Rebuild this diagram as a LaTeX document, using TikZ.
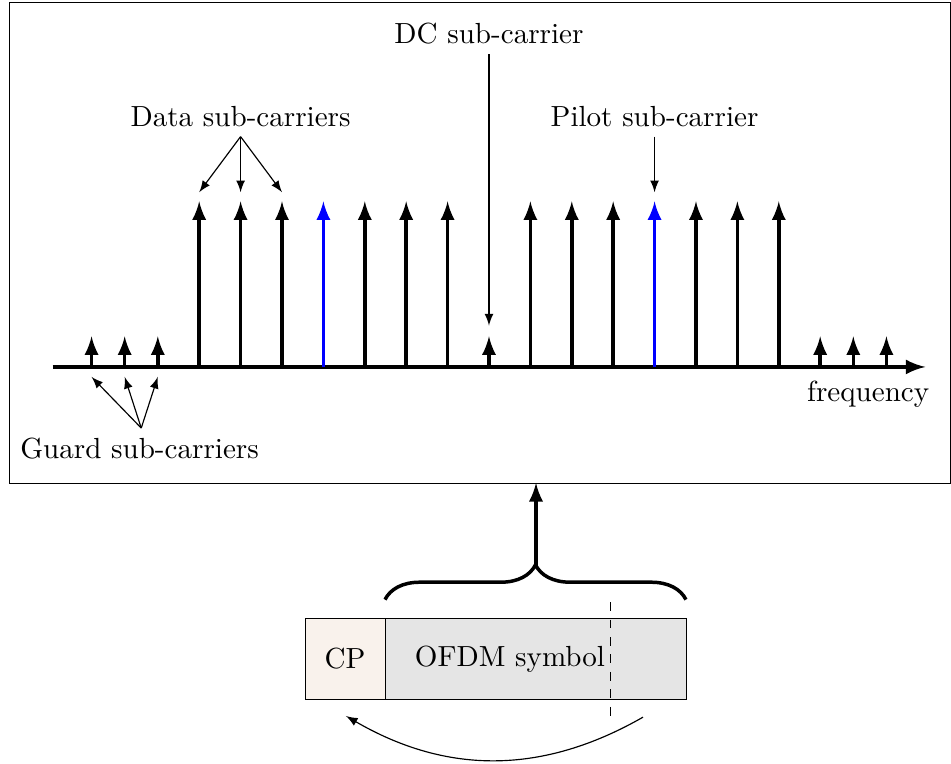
\documentclass[tikz,border=0pt]{standalone}
\usepackage{amsmath}
\usepackage{tikz}
\usepackage{xcolor}
\usetikzlibrary{arrows,decorations.pathreplacing}

\begin{document}
\begin{tikzpicture}[
    carrier/.style={line width=1.2pt,-latex},
    pilotcarrier/.style={carrier,blue},
    pointer/.style={thin,-latex},
    frameline/.style={line width=0.3pt}]
    \useasboundingbox (-5.906,-4.795) rectangle (5.580,4.432);
    \draw [frameline] (-5.797,-1.401) rectangle (5.568,4.408);
    % axis
    \draw [line width=1.3pt,-latex] (-5.27,0)--(5.27,0);
    \node (freq) at (4.58,-0.33) {frequency};
    % sub-carriers
    \foreach \x in {-4.8,-4.4,-4.0,0,4.0,4.4,4.8}
        \draw [carrier] (\x,0)--(\x,0.37);
    \foreach \x in {-3.5,-3,-2.5,-1.5,-1,-0.5,0.5,1,1.5,2.5,3,3.5}
        \draw [carrier] (\x,0)--(\x,2);
    \foreach \x in {-2,2}
        \draw [pilotcarrier] (\x,0)--(\x,2);
    % labels
    \node (data) at (-3.0,3.03) {Data sub-carriers};
    \node (dc) at (0,4.03) {DC sub-carrier};
    \node (pilot) at (2.0,3.03) {Pilot sub-carrier};
    \node (guard) at (-4.22,-0.99) {Guard sub-carriers};
    \foreach \x in {-3.5,-3,-2.5}
        \draw [pointer] (data.south)--(\x,2.11);
    \draw [pointer] (dc.south)--(0,0.5);
    \draw [pointer] (pilot.south)--(2,2.11);
    \foreach \x in {-4.8,-4.4,-4.0}
        \draw [pointer] ([xshift=0.02cm]guard.north)--(\x,-0.12);
    % OFDM symbol
    \node [draw,frameline,fill=brown!10,minimum width=0.966cm,minimum height=0.967cm,inner sep=0pt] (cp) at (-1.739,-3.527) {CP};
    \node [draw,frameline,fill=gray!20,minimum width=3.635cm,minimum height=0.967cm,inner sep=0pt,anchor=west] (sym) at (cp.east) {};
    \node (symtext) at (0.254,-3.527) {OFDM symbol};
    \draw [frameline,dashed] (1.461,-2.84)--(1.461,-4.23);
    \draw [decorate,decoration={brace,amplitude=0.42cm},line width=1.2pt] (-1.256,-2.81)--(2.379,-2.81);
    \coordinate (tip) at (0.568,-2.39);
    \coordinate (top) at (0.568,-1.401);
    \draw [line width=1.2pt,-latex] (tip)--(top);
    \coordinate (copyend) at (1.86,-4.23);
    \draw [thin,-latex] (copyend) to[bend left=30] ([xshift=0.5cm,yshift=-0.2cm]cp.south west);
\end{tikzpicture}
\end{document}
